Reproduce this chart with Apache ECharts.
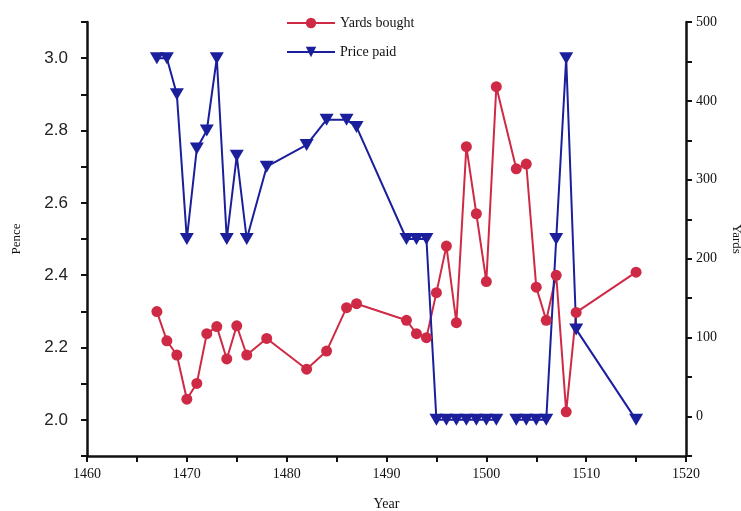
<!DOCTYPE html>
<html>
<head>
<meta charset="utf-8">
<script src="https://cdn.jsdelivr.net/npm/echarts@6/dist/echarts.min.js"></script>
<style>
  html, body { margin: 0; padding: 0; background: #fff; }
  #chart { width: 741px; height: 511px; }
</style>
</head>
<body>
<div id="chart"></div>
<script>
// years with a reading; 1502 has none (breaks the blue line)
const years = [1467, 1468, 1469, 1470, 1471, 1472, 1473, 1474, 1475, 1476, 1478, 1482, 1484, 1486, 1487,
  1492, 1493, 1494, 1495, 1496, 1497, 1498, 1499, 1500, 1501, 1502, 1503, 1504, 1505, 1506,
  1507, 1508, 1509, 1515]
// price paid, pence (left axis)
const pricePaid = [3.0, 3.0, 2.9, 2.5, 2.75, 2.8, 3.0, 2.5, 2.73, 2.5, 2.7, 2.76, 2.83, 2.83, 2.81,
  2.5, 2.5, 2.5, 2.0, 2.0, 2.0, 2.0, 2.0, 2.0, 2.0, null, 2.0, 2.0, 2.0, 2.0,
  2.5, 3.0, 2.25, 2.0]
// yards bought (right axis)
const yardsBought = [133, 96, 78, 22, 42, 105, 114, 73, 115, 78, 99, 60, 83, 138, 143,
  122, 105, 100, 157, 216, 119, 342, 257, 171, 418, null, 314, 320, 164, 122,
  179, 6, 132, 183]
const penceLabels = ['2.0', '2.2', '2.4', '2.6', '2.8', '3.0']
const yardLabels = ['0', '100', '200', '300', '400', '500']
const yearLabels = ['1460', '1470', '1480', '1490', '1500', '1510', '1520']

const RED = '#cf2a45'
const BLUE = '#1b1f9c'
const serif = '"Liberation Serif", "DejaVu Serif", serif'

const pairs = vals => years.map((y, i) => [y, vals[i] == null ? '-' : vals[i]])

const chart = echarts.init(document.getElementById('chart'))
const axisLine = { show: true, onZero: false, lineStyle: { color: '#111', width: 2.5 } }
const axisTick = { show: true, length: 6, lineStyle: { color: '#111', width: 2 } }

chart.setOption({
  animation: false,
  backgroundColor: '#fff',
  grid: { left: 87, right: 55, top: 22, bottom: 55, outerBoundsMode: 'none', containLabel: false },
  legend: {
    orient: 'vertical',
    left: 281,
    top: 11,
    itemWidth: 48,
    itemHeight: 13,
    itemGap: 15,
    textStyle: { fontFamily: serif, fontSize: 14, color: '#111' },
    data: ['Yards bought', 'Price paid']
  },
  xAxis: {
    type: 'value',
    min: 1460,
    max: 1520,
    interval: 5,
    name: 'Year',
    nameLocation: 'middle',
    nameGap: 41,
    nameTextStyle: { fontFamily: serif, fontSize: 14, color: '#111' },
    axisLine: axisLine,
    axisTick: axisTick,
    splitLine: { show: false },
    axisLabel: {
      margin: 11,
      fontFamily: serif,
      fontSize: 14,
      color: '#111',
      formatter: v => (yearLabels.includes(String(v)) ? String(v) : '')
    }
  },
  yAxis: [{
    type: 'value',
    position: 'left',
    min: 1.9,
    max: 3.1,
    interval: 0.1,
    name: 'Pence',
    nameLocation: 'middle',
    nameRotate: 90,
    nameGap: 64,
    nameTextStyle: { fontFamily: serif, fontSize: 13, color: '#111' },
    axisLine: axisLine,
    axisTick: axisTick,
    splitLine: { show: false },
    axisLabel: {
      margin: 19,
      fontFamily: '"Liberation Sans", Arial, sans-serif',
      fontSize: 17,
      color: '#222',
      formatter: v => {
        const s = (Math.round(v * 10) / 10).toFixed(1)
        return penceLabels.includes(s) ? s : ''
      }
    }
  }, {
    type: 'value',
    position: 'right',
    min: -50,
    max: 500,
    interval: 50,
    name: 'Yards',
    nameLocation: 'middle',
    nameRotate: -90,
    nameGap: 44,
    nameTextStyle: { fontFamily: serif, fontSize: 13, color: '#111' },
    axisLine: axisLine,
    axisTick: axisTick,
    splitLine: { show: false },
    axisLabel: {
      margin: 10,
      fontFamily: serif,
      fontSize: 14,
      color: '#111',
      formatter: v => (yardLabels.includes(String(v)) ? String(v) : '')
    }
  }],
  series: [{
    name: 'Yards bought',
    type: 'line',
    yAxisIndex: 1,
    data: pairs(yardsBought),
    connectNulls: true,
    symbol: 'circle',
    symbolSize: 11,
    lineStyle: { color: RED, width: 2 },
    itemStyle: { color: RED }
  }, {
    name: 'Price paid',
    type: 'line',
    yAxisIndex: 0,
    data: pairs(pricePaid),
    connectNulls: false,
    symbol: 'triangle',
    symbolRotate: 180,
    symbolSize: [14, 12],
    lineStyle: { color: BLUE, width: 2 },
    itemStyle: { color: BLUE }
  }]
})
</script>
</body>
</html>
